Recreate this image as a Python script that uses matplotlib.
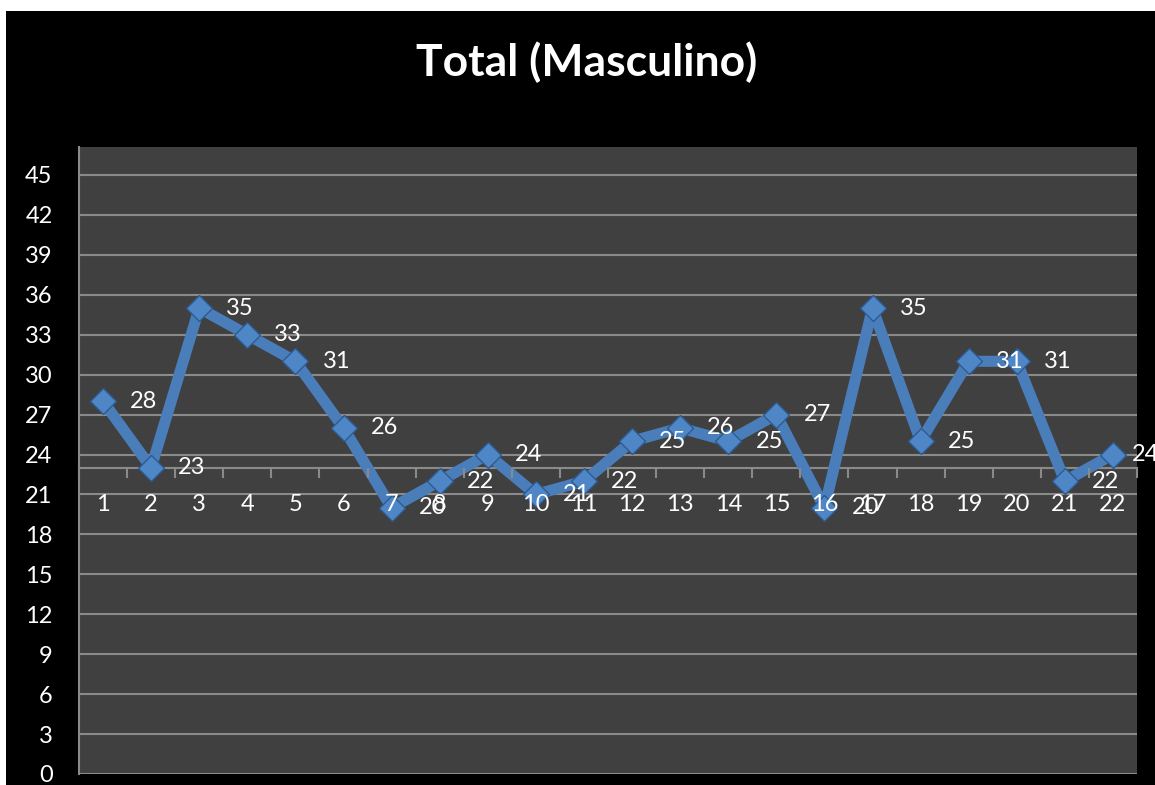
import matplotlib
matplotlib.use("Agg")
import matplotlib.pyplot as plt
from matplotlib.patches import Rectangle

# Values
categories = list(range(1, 23))
totals = [28, 23, 35, 33, 31, 26, 20, 22, 24, 21, 22, 25, 26, 25, 27, 20, 35, 25, 31, 31, 22, 24]
y_ticks = list(range(0, 46, 3))
title = "Total (Masculino)"

plt.rcParams['font.family'] = ['Lato', 'DejaVu Sans']

W, H = 1155, 785
fig = plt.figure(figsize=(W / 100, H / 100), dpi=100, facecolor='white')

# black chart area (white strip top and left as in the screenshot)
fig.add_artist(Rectangle((6 / W, 0), 1 - 6 / W, (H - 11) / H, transform=fig.transFigure,
                         facecolor='black', edgecolor='none', zorder=0))

ax = fig.add_axes([79 / W, 11 / H, (1137 - 79) / W, (774 - 147) / H])
ax.set_facecolor('#404040')

grid_col = '#8a8a8a'
line_col = '#4a7ebb'

ax.set_ylim(0, 47.1)
ax.set_xlim(0.5, 22.5)
ax.set_yticks(y_ticks)
ax.set_yticklabels([str(t) for t in y_ticks])
ax.tick_params(axis='y', length=0, pad=19, labelsize=17, labelcolor='white')

# horizontal gridlines
ax.set_axisbelow(True)
ax.yaxis.grid(True, color=grid_col, linewidth=1.5)

# category axis crosses the value axis at 23
ax.spines['bottom'].set_position(('data', 23))
ax.spines['bottom'].set_color(grid_col)
ax.spines['bottom'].set_linewidth(1.5)
ax.spines['bottom'].set_zorder(1.5)
ax.spines['left'].set_color(grid_col)
ax.spines['left'].set_linewidth(1.5)
ax.spines['top'].set_visible(False)
ax.spines['right'].set_visible(False)

ax.set_xticks(categories)
ax.set_xticklabels([str(c) for c in categories])
ax.set_xticks([c + 0.5 for c in [0] + categories], minor=True)
ax.tick_params(axis='x', which='major', length=0, pad=19, labelsize=17, labelcolor='white')
ax.tick_params(axis='x', which='minor', length=7, width=1.5, color=grid_col, direction='out')
ax.xaxis.set_zorder(3)

ax.plot(categories, totals, color=line_col, linewidth=8, solid_joinstyle='round',
        marker='D', markersize=13.5, markerfacecolor='#4f86c6', markeredgecolor='#2c5a92',
        markeredgewidth=1, zorder=2)

# data labels sit to the right of each point (Excel pulls the last one in a bit)
for c, v in zip(categories, totals):
    dx = 0.85 if c < categories[-1] else 0.68
    ax.text(c + dx, v, str(v), color='white', fontsize=17, ha='center', va='center',
            zorder=4, clip_on=False)

fig.text(587 / W, 1 - 62 / H, title, color='white', fontsize=32, fontweight='bold',
         ha='center', va='center')

fig.savefig('out.png', dpi=100, facecolor=fig.get_facecolor())
